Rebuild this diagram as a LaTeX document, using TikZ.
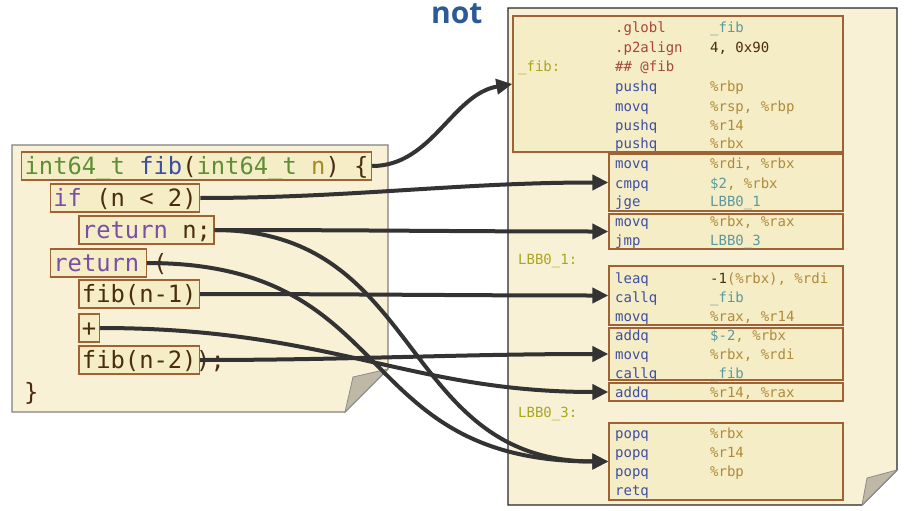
\documentclass[tikz,border=0pt]{standalone}
\usepackage{fontspec}
\setmonofont{DejaVu Sans Mono}
\setsansfont{Open Sans}
\usepackage{xcolor}
\usetikzlibrary{arrows.meta,positioning}
\definecolor{paperfill}{HTML}{F8F1D6}
\definecolor{boxfill}{HTML}{F5EDC6}
\definecolor{boxline}{HTML}{9E6234}
\definecolor{foldgray}{HTML}{BFB8A6}
\definecolor{wireink}{HTML}{333333}
\definecolor{ctype}{HTML}{5E8F34}
\definecolor{cfunc}{HTML}{3D4F9F}
\definecolor{ckey}{HTML}{7A4FA6}
\definecolor{cplain}{HTML}{4A2C0E}
\definecolor{cparam}{HTML}{A38D1F}
\definecolor{asmdir}{HTML}{A8463A}
\definecolor{asmlabel}{HTML}{A9A61E}
\definecolor{asmop}{HTML}{3E4EA3}
\definecolor{asmreg}{HTML}{B08A3A}
\definecolor{asmsym}{HTML}{5B999E}
\definecolor{notblue}{HTML}{2C5A98}
\newcommand{\srcfont}{\ttfamily\fontsize{23.8}{28}\selectfont}
\newcommand{\asmfont}{\ttfamily\fontsize{14}{17}\selectfont}
\newcommand{\asmrow}[4]{%
  \node[asmtext,text=asmop] (#1op) at (615,#2) {#3};
  \node[asmtext,text=asmreg] (#1arg) at (710,#2) {#4};}

\begin{document}
\begin{tikzpicture}[
  x=1pt,y=-1pt,
  paper/.style={fill=paperfill,line width=1.4pt},
  fold/.style={fill=foldgray,draw=black!45,line width=0.8pt},
  src/.style={draw=boxline,fill=boxfill,line width=1.3pt,font=\srcfont,text=cplain,inner xsep=3pt,inner ysep=3pt,text height=19pt,text depth=3pt,anchor=base west},
  srcplain/.style={font=\srcfont,text=cplain,inner sep=0pt,anchor=base west},
  blk/.style={draw=boxline,fill=boxfill,line width=1.3pt,inner sep=0pt},
  asmtext/.style={font=\asmfont,inner sep=0pt,anchor=base west},
  wire/.style={-{Triangle[length=16pt,width=15pt]},draw=wireink,line width=4pt}
]
  \useasboundingbox (0,0) rectangle (914,511);
  % the two sheets
  \draw[paper,draw=black!50] (12,145) -- (388,145) -- (388,369) -- (345,412) -- (12,412) -- cycle;
  \draw[fold] (345,412) -- (353,377) -- (388,369) -- cycle;
  \draw[paper,draw=black!85] (508,8) -- (897,8) -- (897,470) -- (862,505) -- (508,505) -- cycle;
  \draw[fold] (862,505) -- (867,478) -- (897,470) -- cycle;
  % C source
  \node[src] (sig) at (21,174) {{\color{ctype}int64\_t} {\color{cfunc}fib}({\color{ctype}int64\_t} {\color{cparam}n}) \{};
  \node[src] (cond) at (49.7,206) {{\color{ckey}if} (n < 2)};
  \node[src] (retn) at (78.3,238) {{\color{ckey}return} n;};
  \node[src] (ret) at (49.7,271) {{\color{ckey}return}\kern4pt};
  \node[srcplain] (paren) at (153,271) {(};
  \node[src] (callA) at (78.3,302) {fib(n-1)};
  \node[src] (plus) at (78.3,336) {+};
  \node[src] (callB) at (78.3,368) {fib(n-2)};
  \node[srcplain] (close) at (196,368) {);};
  \node[srcplain] (brace) at (24,400) {\}};
  % assembly blocks
  \node[blk,minimum width=330pt,minimum height=136pt] (prologue) at (678,84) {};
  \node[blk,minimum width=234pt,minimum height=57pt] (test) at (726,182.5) {};
  \node[blk,minimum width=234pt,minimum height=35pt] (base) at (726,231.5) {};
  \node[blk,minimum width=234pt,minimum height=59pt] (recA) at (726,295.5) {};
  \node[blk,minimum width=234pt,minimum height=52pt] (recB) at (726,354) {};
  \node[blk,minimum width=234pt,minimum height=18pt] (accum) at (726,392) {};
  \node[blk,minimum width=234pt,minimum height=77pt] (epilog) at (726,461.5) {};
  % assembly text
  \node[asmtext,text=asmlabel] (lblfib) at (518,72) {\_fib:};
  \node[asmtext,text=asmlabel] (lblone) at (518,264) {LBB0\_1:};
  \node[asmtext,text=asmlabel] (lblthree) at (518,417) {LBB0\_3:};
  \asmrow{globl}{33}{\color{asmdir}.globl}{\color{asmsym}\_fib}
  \asmrow{align}{53}{\color{asmdir}.p2align}{\color{cplain}4, 0x90}
  \node[asmtext,text=asmdir] (tag) at (615,72) {\#\# @fib};
  \asmrow{pushbp}{92}{pushq}{\%rbp}
  \asmrow{movsp}{111}{movq}{\%rsp, \%rbp}
  \asmrow{pushr}{130}{pushq}{\%r14}
  \asmrow{pushbx}{149}{pushq}{\%rbx}
  \asmrow{movdi}{168}{movq}{\%rdi, \%rbx}
  \asmrow{cmp}{188}{cmpq}{\textcolor{asmsym}{\$2}, \%rbx}
  \asmrow{jge}{206}{jge}{\textcolor{asmsym}{LBB0\_1}}
  \asmrow{movax}{226}{movq}{\%rbx, \%rax}
  \asmrow{jmp}{245}{jmp}{\textcolor{asmsym}{LBB0\_3}}
  \asmrow{lea}{283}{leaq}{\textcolor{cplain}{-1}(\%rbx), \%rdi}
  \asmrow{callone}{302}{callq}{\textcolor{asmsym}{\_fib}}
  \asmrow{movr}{321}{movq}{\%rax, \%r14}
  \asmrow{sub}{340}{addq}{\textcolor{asmsym}{\$-2}, \%rbx}
  \asmrow{movrdi}{359}{movq}{\%rbx, \%rdi}
  \asmrow{calltwo}{378}{callq}{\textcolor{asmsym}{\_fib}}
  \asmrow{sum}{397}{addq}{\%r14, \%rax}
  \asmrow{popbx}{438}{popq}{\%rbx}
  \asmrow{popr}{457}{popq}{\%r14}
  \asmrow{popbp}{476}{popq}{\%rbp}
  \node[asmtext,text=asmop] (retq) at (615,495) {retq};
  % mapping
  \draw[wire] (sig.east) .. controls +(60,0) and +(-60,10) .. (prologue.west);
  \draw[wire] (cond.east) .. controls +(150,0) and +(-150,0) .. (test.west);
  \draw[wire] (retn.east) .. controls +(150,0) and +(-150,0) .. (base.west);
  \draw[wire] (retn.east) .. controls +(210,0) and +(-210,0) .. (epilog.west);
  \draw[wire] (ret.east) .. controls +(255,0) and +(-260,0) .. (epilog.west);
  \draw[wire] (callA.east) .. controls +(150,0) and +(-150,0) .. (recA.west);
  \draw[wire] (plus.east) .. controls +(230,0) and +(-200,0) .. (accum.west);
  \draw[wire] (callB.east) .. controls +(150,0) and +(-150,0) .. (recB.west);
  \node[font=\sffamily\bfseries\fontsize{30}{30}\selectfont,text=notblue,anchor=base west,inner sep=0pt] (note) at (431,24) {not};
\end{tikzpicture}
\end{document}
